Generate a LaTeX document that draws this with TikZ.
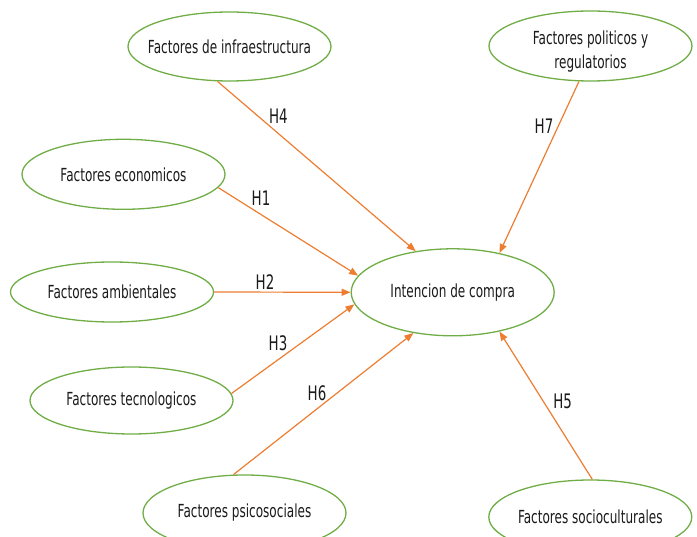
\documentclass[tikz,border=0pt]{standalone}
\usepackage{fontspec}
\setmainfont{DejaVu Sans}[FakeStretch=0.67]
\usetikzlibrary{shapes.geometric,arrows.meta}
\definecolor{ellgreen}{HTML}{70AD47}
\definecolor{arrorange}{HTML}{ED7D31}
\definecolor{txtcol}{HTML}{1A1A1A}
\tikzset{
  ell/.style={ellipse, draw=ellgreen, line width=1.3pt, inner sep=0pt,
    minimum width=203pt, minimum height=#1, text=txtcol,
    font=\fontsize{18}{21}\selectfont},
  ell/.default=69pt,
  hyp/.style={draw=arrorange, line width=1.2pt, -{Triangle[length=9pt,width=7pt]}},
  hlab/.style={inner sep=0pt, text=txtcol, font=\fontsize{20}{22}\selectfont}
}
\begin{document}
\begin{tikzpicture}[x=1pt,y=-1pt]
\useasboundingbox (0,0) rectangle (697,537);
\clip (0,0) rectangle (697,537);
\node[ell=69pt] (inf) at (229.5,46.5) {\makebox[0pt]{Factores de infraestructura}};
\node[ell=70pt] (eco) at (123.5,174.3) {\makebox[0pt]{Factores economicos}};
\node[ell=60pt] (amb) at (112,292) {\makebox[0pt]{Factores ambientales}};
\node[ell=67pt] (tec) at (131.5,400.5) {\makebox[0pt]{Factores tecnologicos}};
\node[ell=76pt] (psi) at (244.5,513) {\makebox[0pt]{Factores psicosociales}};
\node[ell=70pt] (pol) at (590.5,46) {\makebox[0pt]{\smash{\raisebox{-11pt}{\begin{tabular}{@{}c@{}}Factores politicos y\\[3pt] regulatorios\end{tabular}}}}};
\node[ell=87pt] (int) at (452.7,292.3) {\makebox[0pt]{Intencion de compra}};
\node[ell=74pt] (soc) at (590.3,517) {\makebox[0pt]{Factores socioculturales}};

\draw[hyp] (inf.251) -- (int.132.5);
\draw[hyp] (eco.352.7) -- (int.170.2);
\draw[hyp] (amb.east) -- (int.west);
\draw[hyp] (tec.4.2) -- (int.187.2);
\draw[hyp] (psi.106.8) -- (int.226.9);
\draw[hyp] (pol.252.3) -- (int.40);
\draw[hyp] (soc.87.8) -- (int.320.6);

\node[hlab] (h4) at (278.3,116.5) {H4};
\node[hlab] (h1) at (261,198.3) {H1};
\node[hlab] (h2) at (265,282) {H2};
\node[hlab] (h3) at (278,343) {H3};
\node[hlab] (h6) at (317,393) {H6};
\node[hlab] (h7) at (544,126.7) {H7};
\node[hlab] (h5) at (562.7,401.7) {H5};
\end{tikzpicture}
\end{document}
